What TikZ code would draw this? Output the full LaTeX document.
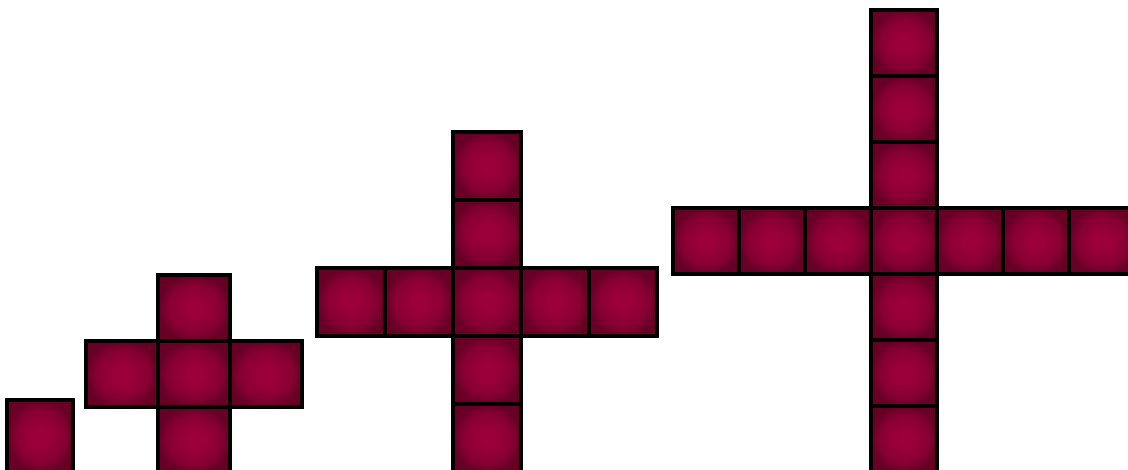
\documentclass[tikz,border=0pt]{standalone}
\usetikzlibrary{positioning}
\definecolor{cellmid}{RGB}{155,0,56}
\definecolor{cellring}{RGB}{135,0,50}
\definecolor{celledge}{RGB}{104,0,38}
\pgfdeclareradialshading{cellshade}{\pgfpoint{0bp}{0bp}}{color(0bp)=(cellmid); color(6bp)=(cellmid); color(18bp)=(cellring); color(25bp)=(celledge); color(50bp)=(celledge)}
\begin{document}
\begin{tikzpicture}[x=1pt, y=-1pt, node distance=0pt,
    cell/.style={draw, line width=3.2pt, inner sep=0pt, outer sep=0pt,
      minimum width=66pt, minimum height=66pt, shading=cellshade}]
  \useasboundingbox (0,0) rectangle (1128,470);
  \clip (0,0) rectangle (1128,470);
  % stage 1
  \node[cell, minimum height=72pt] (a) at (40,436) {};
  % stage 2
  \begin{scope}[cell/.append style={minimum width=72pt}]
    \node[cell] (b) at (194,374) {};
    \node[cell, above=of b] (bn) {};
    \node[cell, below=of b] (bs) {};
    \node[cell, left=of b] (bw) {};
    \node[cell, right=of b] (be) {};
  \end{scope}
  % stage 3
  \begin{scope}[cell/.append style={minimum width=68pt, minimum height=68pt}]
    \node[cell] (c) at (487,302) {};
    \foreach \i/\p in {1/c,2/cn1} \node[cell, above=of \p] (cn\i) {};
    \foreach \i/\p in {1/c,2/cs1} \node[cell, below=of \p] (cs\i) {};
    \foreach \i/\p in {1/c,2/cw1} \node[cell, left=of \p] (cw\i) {};
    \foreach \i/\p in {1/c,2/ce1} \node[cell, right=of \p] (ce\i) {};
  \end{scope}
  % stage 4
  \node[cell] (d) at (904,241) {};
  \foreach \i/\p in {1/d,2/dn1,3/dn2} \node[cell, above=of \p] (dn\i) {};
  \foreach \i/\p in {1/d,2/ds1,3/ds2} \node[cell, below=of \p] (ds\i) {};
  \foreach \i/\p in {1/d,2/dw1,3/dw2} \node[cell, left=of \p] (dw\i) {};
  \foreach \i/\p in {1/d,2/de1,3/de2} \node[cell, right=of \p] (de\i) {};
\end{tikzpicture}
\end{document}
